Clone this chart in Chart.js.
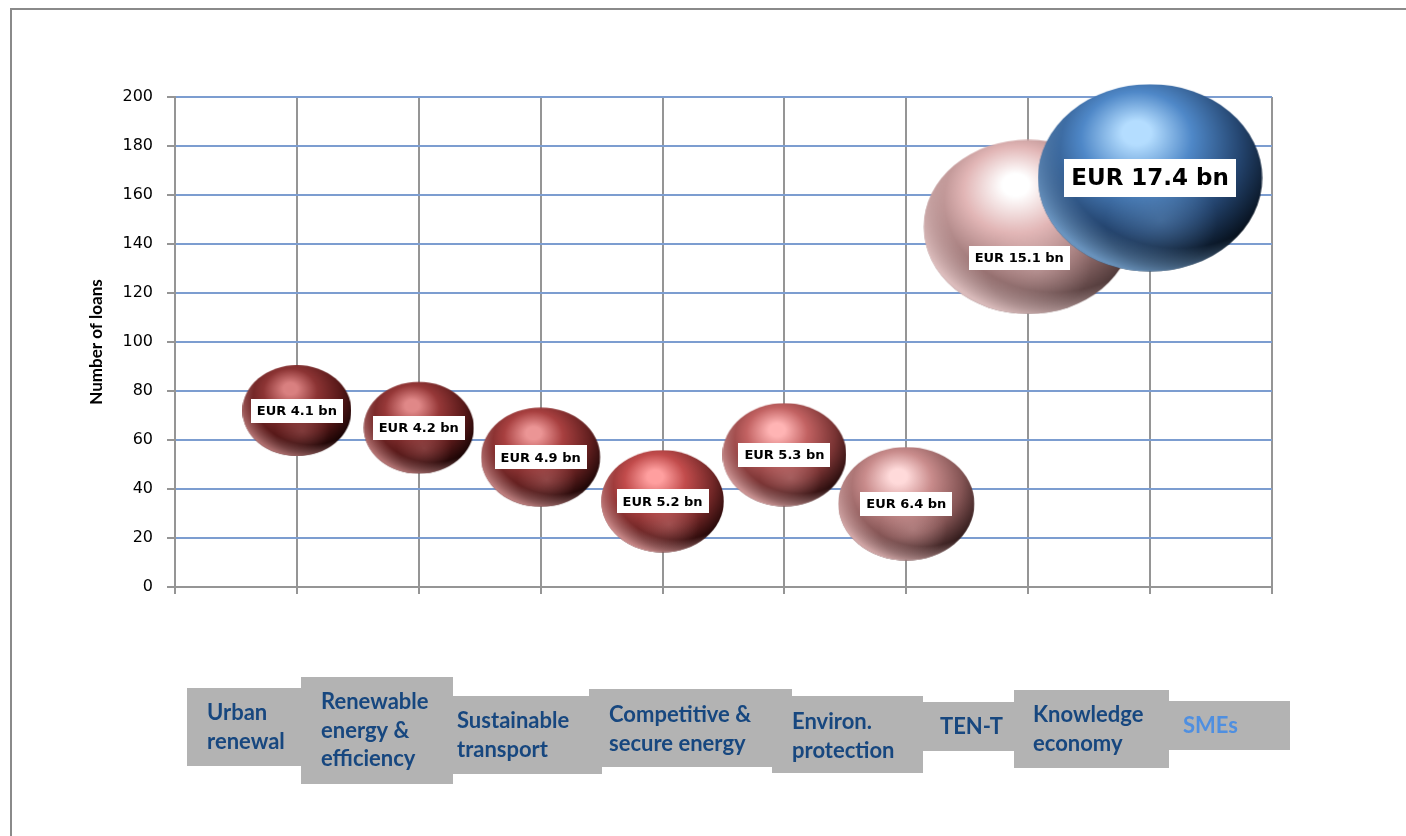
<!DOCTYPE html>
<html>
<head>
<meta charset="utf-8">
<title>Number of loans by sector</title>
<script src="https://cdn.jsdelivr.net/npm/chart.js@4/dist/chart.umd.min.js"></script>
<style>
  html, body { margin: 0; padding: 0; background: #fff; }
  #wrap { width: 1406px; height: 836px; }
</style>
</head>
<body>
<div id="wrap"><canvas id="loansChart" width="1406" height="836"></canvas></div>
<script>
// sectors (one line per entry), number of loans, and volume in EUR bn
var sectors = [
  ['Urban', 'renewal'],
  ['Renewable', 'energy &', 'efficiency'],
  ['Sustainable', 'transport'],
  ['Competitive &', 'secure energy'],
  ['Environ.', 'protection'],
  ['TEN-T'],
  ['Knowledge', 'economy'],
  ['SMEs']
];
var loanCounts = [72, 65, 53, 35, 54, 34, 147, 167];
var volumesBn = [4.1, 4.2, 4.9, 5.2, 5.3, 6.4, 15.1, 17.4];
var yTicks = [0, 20, 40, 60, 80, 100, 120, 140, 160, 180, 200];

// sphere colours: highlight, body, shadow, edge, rim light
var sphereColors = [
  ['#d98080', '#8c3434', '#561818', '#150303', '#d08888'],
  ['#e08888', '#963838', '#5a1a1a', '#170404', '#d48c8c'],
  ['#eb9595', '#a84040', '#642020', '#1a0505', '#e09a9a'],
  ['#ff9f9f', '#c24c4c', '#742828', '#220707', '#eaa4a4'],
  ['#ffb4b4', '#c26262', '#7a3434', '#240b0b', '#eeb2b2'],
  ['#ffdada', '#c98c8c', '#855555', '#2e1919', '#f2c4c4'],
  ['#ffffff', '#e2b6b6', '#967070', '#4e3838', '#f8d8d8'],
  ['#b4ddff', '#4f88c8', '#24446e', '#060f1a', '#80b0e0']
];
var bubbleScale = 26.9;   // px of horizontal radius per sqrt(EUR bn)
var bubbleFlat = 0.835;   // height / width of each bubble

function hexA(hex, a) {
  var n = parseInt(hex.slice(1), 16);
  return 'rgba(' + (n >> 16) + ',' + ((n >> 8) & 255) + ',' + (n & 255) + ',' + a + ')';
}

function makeSphere(r, col) {
  var w = Math.ceil(2 * r), h = Math.ceil(2 * r * bubbleFlat);
  var c = document.createElement('canvas');
  c.width = w; c.height = h;
  var g = c.getContext('2d');
  g.translate(w / 2, h / 2);
  g.scale(1, bubbleFlat);
  g.beginPath();
  g.arc(0, 0, r, 0, Math.PI * 2);
  g.closePath();
  g.clip();

  // body, lit from the upper left
  var main = g.createRadialGradient(-0.12 * r, -0.5 * r, 0, -0.12 * r, -0.3 * r, 1.3 * r);
  main.addColorStop(0, col[0]);
  main.addColorStop(0.1, col[0]);
  main.addColorStop(0.38, col[1]);
  main.addColorStop(0.72, col[2]);
  main.addColorStop(1, col[3]);
  g.fillStyle = main;
  g.fillRect(-r, -r, 2 * r, 2 * r);

  // soft glow in the lower half
  var glow = g.createRadialGradient(0.1 * r, 0.45 * r, 0, 0.1 * r, 0.45 * r, 0.5 * r);
  glow.addColorStop(0, hexA(col[4], 0.28));
  glow.addColorStop(1, hexA(col[4], 0));
  g.fillStyle = glow;
  g.fillRect(-r, -r, 2 * r, 2 * r);

  // rim light along the bottom edge
  var rim = g.createRadialGradient(0.25 * r, -0.3 * r, 1.05 * r, 0.25 * r, -0.3 * r, 1.36 * r);
  rim.addColorStop(0, hexA(col[4], 0));
  rim.addColorStop(1, hexA(col[4], 0.8));
  g.fillStyle = rim;
  g.fillRect(-r, -r, 2 * r, 2 * r);
  return c;
}

var radii = volumesBn.map(function (v) { return bubbleScale * Math.sqrt(v); });
var spheres = radii.map(function (r, i) { return makeSphere(r, sphereColors[i]); });

var points = loanCounts.map(function (n, i) {
  return { x: i + 1, y: n, r: radii[i] };
});

// label boxes below the plot: x0, y0, x1, y1, text x, first line y
var sectorBoxes = [
  [187, 688, 301, 766, 207, 713],
  [301, 677, 453, 784, 321, 702],
  [453, 696, 602, 774, 457, 721],
  [589, 689, 792, 767, 609, 715],
  [772, 696, 923, 773, 792, 722],
  [923, 702, 1014, 751, 940, 727],
  [1014, 690, 1169, 768, 1033, 715],
  [1169, 701, 1290, 750, 1183, 726]
];
var sectorTextColors = ['#17477f', '#17477f', '#17477f', '#17477f', '#17477f', '#17477f', '#17477f', '#4f8fe0'];

var frame = {
  id: 'frame',
  beforeDraw: function (chart) {
    var ctx = chart.ctx;
    ctx.save();
    ctx.fillStyle = '#fff';
    ctx.fillRect(0, 0, chart.width, chart.height);
    ctx.strokeStyle = '#8a8a8a';
    ctx.lineWidth = 2;
    ctx.beginPath();
    ctx.moveTo(11, chart.height + 2);
    ctx.lineTo(11, 9);
    ctx.lineTo(chart.width + 2, 9);
    ctx.stroke();
    ctx.restore();
  }
};

var amountLabels = {
  id: 'amountLabels',
  afterDatasetsDraw: function (chart) {
    var ctx = chart.ctx;
    var meta = chart.getDatasetMeta(0);
    ctx.save();
    meta.data.forEach(function (el, i) {
      var big = i === volumesBn.length - 1;
      var size = big ? 23 : 13;
      var text = 'EUR ' + volumesBn[i].toFixed(1) + ' bn';
      var cx = el.x, cy = el.y;
      if (i === 6) { cx -= 9; cy += 31; }
      ctx.font = 'bold ' + size + 'px "DejaVu Sans"';
      var tw = ctx.measureText(text).width;
      var bw = tw + (big ? 14 : 12);
      var bh = big ? 38 : 24;
      ctx.fillStyle = '#fff';
      ctx.fillRect(Math.round(cx - bw / 2), Math.round(cy - bh / 2), Math.round(bw), bh);
      ctx.fillStyle = '#000';
      ctx.textAlign = 'center';
      ctx.textBaseline = 'middle';
      ctx.fillText(text, cx, cy + 1);
    });
    ctx.restore();
  }
};

var sectorLabels = {
  id: 'sectorLabels',
  afterDraw: function (chart) {
    var ctx = chart.ctx;
    ctx.save();
    ctx.font = 'bold 22px Lato';
    ctx.textAlign = 'left';
    ctx.textBaseline = 'middle';
    sectorBoxes.forEach(function (b) {
      ctx.fillStyle = '#b3b3b3';
      ctx.fillRect(b[0], b[1], b[2] - b[0], b[3] - b[1]);
    });
    sectors.forEach(function (lines, i) {
      var b = sectorBoxes[i];
      ctx.fillStyle = sectorTextColors[i];
      lines.forEach(function (line, k) {
        ctx.fillText(line, b[4], b[5] + k * 28.5);
      });
    });
    ctx.restore();
  }
};

var ctx = document.getElementById('loansChart');
var chart = new Chart(ctx, {
  type: 'bubble',
  data: {
    datasets: [{
      label: 'Number of loans',
      data: points,
      clip: false,
      pointStyle: function (c) { return spheres[c.dataIndex]; },
      backgroundColor: 'rgba(0,0,0,0)',
      borderWidth: 0
    }]
  },
  options: {
    responsive: false,
    animation: false,
    devicePixelRatio: 1,
    layout: { autoPadding: false, padding: { left: 80, top: 97, right: 134, bottom: 0 } },
    plugins: {
      legend: { display: false },
      tooltip: { enabled: false }
    },
    scales: {
      x: {
        type: 'linear',
        min: 0,
        max: 9,
        ticks: { stepSize: 1, display: false },
        grid: { color: '#959595', lineWidth: 2, tickLength: 7, tickColor: '#959595' },
        border: { color: '#959595', width: 2 },
        afterFit: function (s) { s.height = 249; }
      },
      y: {
        type: 'linear',
        min: 0,
        max: 200,
        afterBuildTicks: function (s) {
          s.ticks = yTicks.map(function (v) { return { value: v }; });
        },
        ticks: {
          padding: 14,
          color: '#000',
          font: { family: '"DejaVu Sans"', size: 16 }
        },
        grid: { color: '#7c9dd0', lineWidth: 2, tickLength: 8, tickColor: '#959595' },
        border: { color: '#959595', width: 2 },
        title: {
          display: true,
          text: 'Number of loans',
          color: '#000',
          font: { family: 'Lato', size: 17, weight: 'bold' },
          padding: { top: 6, bottom: 0 }
        },
        afterFit: function (s) { s.width = 95; }
      }
    }
  },
  plugins: [frame, amountLabels, sectorLabels]
});
</script>
</body>
</html>
